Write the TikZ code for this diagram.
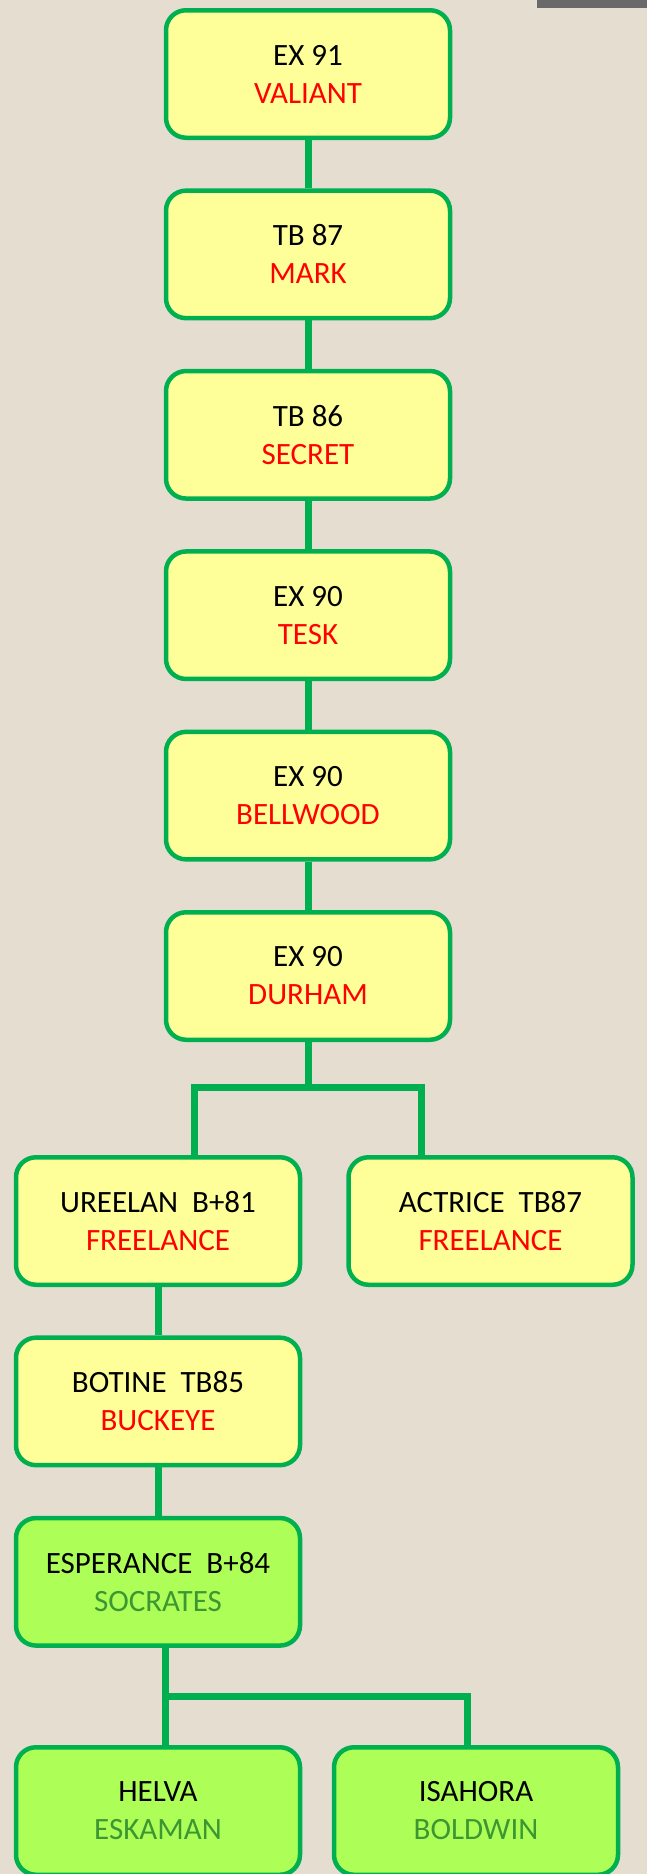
\documentclass[tikz,border=0pt]{standalone}
\usepackage{fontspec}
\setmainfont{Carlito}
\usetikzlibrary{positioning}
\definecolor{paper}{RGB}{229,221,208}
\definecolor{linegreen}{RGB}{0,176,80}
\definecolor{boxyellow}{RGB}{255,255,153}
\definecolor{boxlime}{RGB}{173,255,87}
\definecolor{namegreen}{RGB}{60,150,50}
\definecolor{tabgray}{RGB}{105,105,105}

\begin{document}
\begin{tikzpicture}[x=1pt,y=-1pt,node distance=180.4pt,
		sire/.style={rectangle, rounded corners=20pt, draw=linegreen, line width=4.5pt,
			fill=boxyellow, minimum width=284pt, minimum height=127.5pt, align=center,
			font=\fontsize{31}{38}\selectfont},
		foal/.style={sire, fill=boxlime},
		link/.style={draw=linegreen, line width=7pt}]

		\useasboundingbox (0,0) rectangle (647,1874);
		\fill[paper] (0,0) rectangle (647,1874);
		\fill[tabgray] (537,0) rectangle (647,8);

		\node[sire] (EX91) at (308,74) {EX 91\\\textcolor{red}{VALIANT}};
		\node[sire] (TB87) [below of=EX91] {TB 87\\\textcolor{red}{MARK}};
		\node[sire] (TB86) [below of=TB87] {TB 86\\\textcolor{red}{SECRET}};
		\node[sire] (TESK) [below of=TB86] {EX 90\\\textcolor{red}{TESK}};
		\node[sire] (BELL) [below of=TESK] {EX 90\\\textcolor{red}{BELLWOOD}};
		\node[sire] (DURH) [below of=BELL] {EX 90\\\textcolor{red}{DURHAM}};

		\node[sire] (UREE) at (158,1221) {UREELAN\ \ B+81\\\textcolor{red}{FREELANCE}};
		\node[sire] (ACTR) at (490.5,1221) {ACTRICE\ \ TB87\\\textcolor{red}{FREELANCE}};
		\node[sire] (BOTI) [below of=UREE] {BOTINE\ \ TB85\\\textcolor{red}{BUCKEYE}};
		\node[foal] (ESPE) [below of=BOTI] {ESPERANCE\ \ B+84\\\textcolor{namegreen}{SOCRATES}};
		\node[foal] (HELV) at (158,1811) {HELVA\\\textcolor{namegreen}{ESKAMAN}};
		\node[foal] (ISAH) at (476,1811) {ISAHORA\\\textcolor{namegreen}{BOLDWIN}};

		\coordinate (forkL) at (194,1087);
		\coordinate (forkR) at (421,1087);
		\coordinate (forkB) at (165,1696);
		\coordinate (forkC) at (467,1696);

		\path[link]
		(EX91) -- (TB87)
		(TB87) -- (TB86)
		(TB86) -- (TESK)
		(TESK) -- (BELL)
		(BELL) -- (DURH)
		(UREE) -- (BOTI)
		(BOTI) -- (ESPE);
		\draw[link] (DURH) -- (DURH |- forkL);
		\draw[link] (forkL |- UREE.north) -- (forkL) -- (forkR) -- (forkR |- ACTR.north);
		\draw[link] (ESPE.south -| forkB) -- (forkB |- HELV.north);
		\draw[link] (forkB) -- (forkC) -- (forkC |- ISAH.north);
	\end{tikzpicture}
\end{document}
